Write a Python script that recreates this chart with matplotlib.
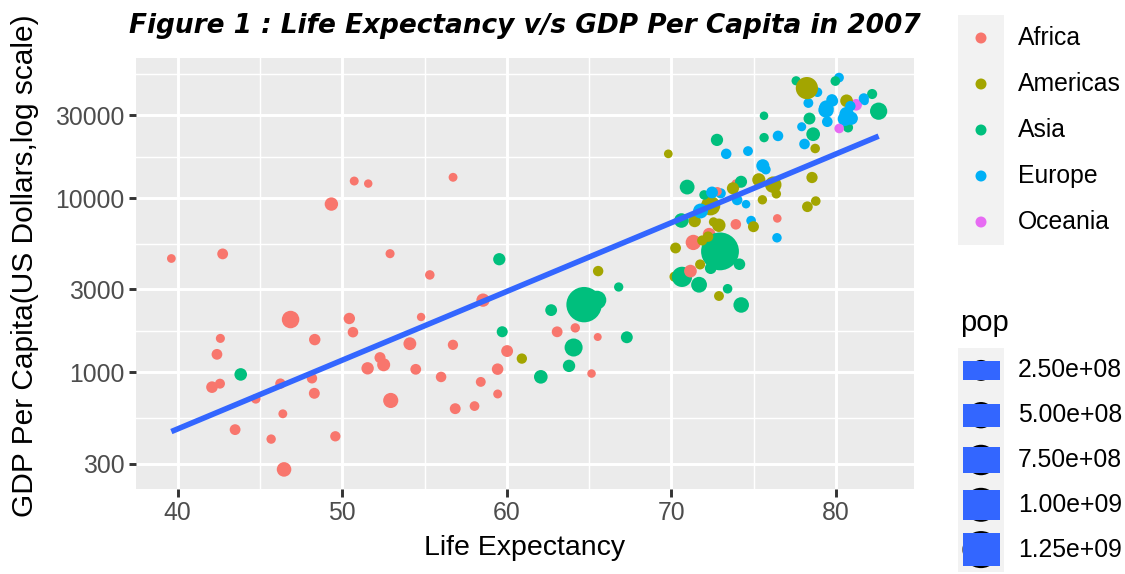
import numpy as np
import matplotlib
matplotlib.use("Agg")
from matplotlib import pyplot as plt
from matplotlib.patches import Rectangle, Circle

plt.rcParams['font.family'] = ['Liberation Sans', 'DejaVu Sans']

# gapminder, year 2007
afr_country = ["Algeria", "Angola", "Benin", "Botswana", "Burkina Faso", "Burundi", "Cameroon",
               "Central African Republic", "Chad", "Comoros", "Congo, Dem. Rep.", "Congo, Rep.",
               "Cote d'Ivoire", "Djibouti", "Egypt", "Equatorial Guinea", "Eritrea", "Ethiopia",
               "Gabon", "Gambia", "Ghana", "Guinea", "Guinea-Bissau", "Kenya", "Lesotho", "Liberia",
               "Libya", "Madagascar", "Malawi", "Mali", "Mauritania", "Mauritius", "Morocco",
               "Mozambique", "Namibia", "Niger", "Nigeria", "Reunion", "Rwanda",
               "Sao Tome and Principe", "Senegal", "Sierra Leone", "Somalia", "South Africa",
               "Sudan", "Swaziland", "Tanzania", "Togo", "Tunisia", "Uganda", "Zambia", "Zimbabwe"]
afr_life = [72.301, 42.731, 56.728, 50.728, 52.295, 49.580, 50.430, 44.741, 50.651, 65.152,
            46.462, 55.322, 48.328, 54.791, 71.338, 51.579, 58.040, 52.947, 56.735, 59.448,
            60.022, 56.007, 46.388, 54.110, 42.592, 45.678, 73.952, 59.443, 48.303, 54.467,
            64.164, 72.801, 71.164, 42.082, 52.906, 56.867, 46.859, 76.442, 46.242, 65.528,
            63.062, 42.568, 48.159, 49.339, 58.556, 39.613, 52.517, 58.420, 73.923, 51.542,
            42.384, 43.487]
afr_pop = [33333216, 12420476, 8078314, 1639131, 14326203, 8390505, 17696293, 4369038, 10238807,
           710960, 64606759, 3800610, 18013409, 496374, 80264543, 551201, 4906585, 76511887,
           1454867, 1688359, 22873338, 9947814, 1472041, 35610177, 2012649, 3193942, 6036914,
           19167654, 13327079, 12031795, 3270065, 1250882, 33757175, 19951656, 2055080,
           12894865, 135031164, 798094, 8860588, 199579, 12267493, 6144562, 9118773, 43997828,
           42292929, 1133066, 38139640, 5701579, 10276158, 29170398, 11746035, 12311143]
afr_gdp = [6223.4, 4797.2, 1441.3, 12569.9, 1217.0, 430.1, 2042.1, 706.0, 1704.1, 986.1,
           277.6, 3632.6, 1544.8, 2082.5, 5581.2, 12154.1, 641.4, 690.8, 13206.5, 752.7,
           1327.6, 942.7, 579.2, 1463.2, 1569.3, 414.5, 12057.5, 1044.8, 759.3, 1042.6,
           1803.2, 10957.0, 3820.2, 823.7, 4811.1, 619.7, 2014.0, 7670.1, 863.1, 1598.4,
           1712.5, 862.5, 926.1, 9269.7, 2602.4, 4513.5, 1107.5, 883.0, 7092.9, 1056.4,
           1271.2, 469.7]

ame_country = ["Argentina", "Bolivia", "Brazil", "Canada", "Chile", "Colombia", "Costa Rica",
               "Cuba", "Dominican Republic", "Ecuador", "El Salvador", "Guatemala", "Haiti",
               "Honduras", "Jamaica", "Mexico", "Nicaragua", "Panama", "Paraguay", "Peru",
               "Puerto Rico", "Trinidad and Tobago", "United States", "Uruguay", "Venezuela"]
ame_life = [75.320, 65.554, 72.390, 80.653, 78.553, 72.889, 78.782, 78.273, 72.235, 74.994,
            71.878, 70.259, 60.916, 70.198, 72.567, 76.195, 72.899, 75.537, 71.752, 71.421,
            78.746, 69.819, 78.242, 76.384, 73.747]
ame_pop = [40301927, 9119152, 190010647, 33390141, 16284741, 44227550, 4133884, 11416987,
           9319622, 13755680, 6939688, 12572928, 8502814, 7483763, 2780132, 108700891, 5675356,
           3242173, 6667147, 28674757, 3942491, 1056608, 301139947, 3447496, 26084662]
ame_gdp = [12779.4, 3822.1, 9065.8, 36319.2, 13171.6, 7006.6, 9645.1, 8948.1, 6025.4, 6873.3,
           5728.4, 5186.1, 1201.6, 3548.3, 7320.9, 11977.6, 2749.3, 9809.2, 4172.8, 7408.9,
           19328.7, 18008.5, 42951.7, 10611.5, 11415.8]

asi_country = ["Afghanistan", "Bahrain", "Bangladesh", "Cambodia", "China", "Hong Kong, China",
               "India", "Indonesia", "Iran", "Iraq", "Israel", "Japan", "Jordan",
               "Korea, Dem. Rep.", "Korea, Rep.", "Kuwait", "Lebanon", "Malaysia", "Mongolia",
               "Myanmar", "Nepal", "Oman", "Pakistan", "Philippines", "Saudi Arabia", "Singapore",
               "Sri Lanka", "Syria", "Taiwan", "Thailand", "Vietnam", "West Bank and Gaza",
               "Yemen, Rep."]
asi_life = [43.828, 75.635, 64.062, 59.723, 72.961, 82.208, 64.698, 70.650, 70.964, 59.545,
            80.745, 82.603, 72.535, 67.297, 78.623, 77.588, 71.993, 74.241, 66.803, 62.069,
            63.785, 75.640, 65.483, 71.688, 72.777, 79.972, 72.396, 74.143, 78.400, 70.616,
            74.249, 73.422, 62.698]
asi_pop = [31889923, 708573, 150448339, 14131858, 1318683096, 6980412, 1110396331, 223547000,
           69453570, 27499638, 6426679, 127467972, 6053193, 23301725, 49044790, 2505559,
           3921278, 24821286, 2874127, 47761980, 28901790, 3204897, 169270617, 91077287,
           27601038, 4553009, 20378239, 19314747, 23174294, 65068149, 85262356, 4018332,
           22211743]
asi_gdp = [974.6, 29796.0, 1391.3, 1713.8, 4959.1, 39725.0, 2452.2, 3540.7, 11605.7, 4471.1,
           25523.3, 31656.1, 4519.5, 1593.1, 23348.1, 47307.0, 10461.1, 12451.7, 3095.8, 944.0,
           1091.4, 22316.2, 2605.9, 3190.5, 21654.8, 47143.2, 3970.1, 4184.5, 28718.3, 7458.4,
           2441.6, 3025.3, 2280.8]

eur_country = ["Albania", "Austria", "Belgium", "Bosnia and Herzegovina", "Bulgaria", "Croatia",
               "Czech Republic", "Denmark", "Finland", "France", "Germany", "Greece", "Hungary",
               "Iceland", "Ireland", "Italy", "Montenegro", "Netherlands", "Norway", "Poland",
               "Portugal", "Romania", "Serbia", "Slovak Republic", "Slovenia", "Spain", "Sweden",
               "Switzerland", "Turkey", "United Kingdom"]
eur_life = [76.423, 79.829, 79.441, 74.852, 73.005, 75.748, 76.486, 78.332, 79.313, 80.657,
            79.406, 79.483, 73.338, 81.757, 78.885, 80.546, 74.543, 79.762, 80.196, 75.563,
            78.098, 72.476, 74.002, 74.663, 77.926, 80.941, 80.884, 81.701, 71.777, 79.425]
eur_pop = [3600523, 8199783, 10392226, 4552198, 7322858, 4493312, 10228744, 5468120, 5238460,
           61083916, 82400996, 10706290, 9956108, 301931, 4109086, 58147733, 684736, 16570613,
           4627926, 38518241, 10642836, 22276056, 10150265, 5447502, 2009245, 40448191,
           9031088, 7554661, 71158647, 60776238]
eur_gdp = [5937.0, 36126.5, 33692.6, 7446.3, 10680.8, 14619.2, 22833.3, 35278.4, 33207.1,
           30470.0, 32170.4, 27538.4, 18008.9, 36180.8, 40676.0, 28569.7, 9253.9, 36797.9,
           49357.2, 15389.9, 20509.6, 10808.5, 9786.5, 18678.3, 25768.3, 28821.1, 33859.8,
           37506.4, 8458.3, 33203.3]

oce_country = ["Australia", "New Zealand"]
oce_life = [81.235, 80.204]
oce_pop = [20434176, 4115771]
oce_gdp = [34435.4, 25185.0]

continents = ["Africa", "Americas", "Asia", "Europe", "Oceania"]
colors = ["#F8766D", "#A3A500", "#00BF7D", "#00B0F6", "#E76BF3"]
pop_breaks = [2.5e8, 5.0e8, 7.5e8, 1.0e9, 1.25e9]
pop_labels = ["2.50e+08", "5.00e+08", "7.50e+08", "1.00e+09", "1.25e+09"]
y_breaks = [300, 1000, 3000, 10000, 30000]
x_breaks = [40, 50, 60, 70, 80]

# stack everything, then draw in country order like ggplot does
groups = [(afr_country, afr_life, afr_pop, afr_gdp), (ame_country, ame_life, ame_pop, ame_gdp),
          (asi_country, asi_life, asi_pop, asi_gdp), (eur_country, eur_life, eur_pop, eur_gdp),
          (oce_country, oce_life, oce_pop, oce_gdp)]
country, life, pop, gdp, col = [], [], [], [], []
for i, g in enumerate(groups):
    country += g[0]; life += g[1]; pop += g[2]; gdp += g[3]
    col += [colors[i]] * len(g[0])
order = np.argsort(country)
life = np.array(life)[order]
pop = np.array(pop, dtype=float)[order]
gdp = np.array(gdp)[order]
col = np.array(col)[order]

W, H, DPI = 1125, 574, 100
PX = DPI / 72.0  # pixels per point


def size_px(p):
    # ggplot scale_size: area palette, range 1..6, then pch 19 diameter
    t = (np.asarray(p) - pop.min()) / (pop.max() - pop.min())
    size = 1 + 5 * np.sqrt(np.clip(t, 0, None))
    return 2.1 * (size * 2.845 + 0.945)


fig = plt.figure(figsize=(W / DPI, H / DPI), dpi=DPI)
L, R, T, B = 136, 914, 58, 489
ax = fig.add_axes([L / W, 1 - B / H, (R - L) / W, (B - T) / H])
ax.set_facecolor("#EBEBEB")
for s in ax.spines.values():
    s.set_visible(False)

ax.set_yscale("log")
xr = life.max() - life.min()
ax.set_xlim(life.min() - 0.05 * xr, life.max() + 0.05 * xr)
ly = np.log10(gdp)
yr = ly.max() - ly.min()
ax.set_ylim(10 ** (ly.min() - 0.05 * yr), 10 ** (ly.max() + 0.05 * yr))

# grid: white major + minor
for v in x_breaks:
    ax.axvline(v, color="white", lw=2.1, zorder=0.5)
for v in [45, 55, 65, 75]:
    ax.axvline(v, color="white", lw=1.05, zorder=0.4)
lb = np.log10(y_breaks)
ext = np.concatenate([[2 * lb[0] - lb[1]], lb, [2 * lb[-1] - lb[-2]]])
for v in (ext[:-1] + ext[1:]) / 2:
    ax.axhline(10 ** v, color="white", lw=1.05, zorder=0.4)
for v in y_breaks:
    ax.axhline(v, color="white", lw=2.1, zorder=0.5)

ax.scatter(life, gdp, s=(size_px(pop) / PX) ** 2, c=col, linewidths=0, zorder=2)

# lm fit on log scale
b1, b0 = np.polyfit(life, ly, 1)
xs = np.array([life.min(), life.max()])
ax.plot(xs, 10 ** (b0 + b1 * xs), color="#3366FF", lw=4.0, solid_capstyle="butt", zorder=3)

ax.set_xticks(x_breaks)
ax.set_yticks(y_breaks)
ax.set_yticklabels([str(v) for v in y_breaks])
ax.yaxis.set_minor_locator(matplotlib.ticker.NullLocator())
ax.tick_params(length=5.4, width=2.1, color="#333333", labelcolor="#4D4D4D",
               labelsize=17.8, pad=3)

fig.text((L + R) / 2 / W, 1 - 548 / H, "Life Expectancy", ha="center", va="center",
         fontsize=20.5)
fig.text(25 / W, 1 - 266 / H, "GDP Per Capita(US Dollars,log scale)", ha="center",
         va="center", rotation=90, fontsize=21.5)
fig.text((L + R) / 2 / W, 1 - 26 / H, "Figure 1 : Life Expectancy v/s GDP Per Capita in 2007",
         ha="center", va="center", fontsize=19, fontweight="bold", fontstyle="italic",
         family="DejaVu Sans")

# legends, drawn in pixel space
lg = fig.add_axes([0, 0, 1, 1], zorder=-1)
lg.set_xlim(0, W)
lg.set_ylim(H, 0)
lg.axis("off")

lg.add_patch(Rectangle((958, 15), 46, 230, color="#F2F2F2", lw=0))
for i, name in enumerate(continents):
    cy = 15 + 46 * i + 23
    lg.add_patch(Circle((981, cy), 5.5, color=colors[i], lw=0))
    lg.text(1018, cy, name, va="center", ha="left", fontsize=17.8)

lg.text(960, 323, "pop", va="center", ha="left", fontsize=21)
lg.add_patch(Rectangle((958, 348), 46, 224, color="#F2F2F2", lw=0))
for i, (p, lab) in enumerate(zip(pop_breaks, pop_labels)):
    cy = 348 + 44.8 * i + 22.4
    d = float(size_px(p))
    lg.add_patch(Circle((981, cy), d / 2, color="black", lw=0))
    h = 0.87 * d
    lg.add_patch(Rectangle((962.5, cy - h / 2), 37, h, color="#3366FF", lw=0))
    lg.text(1018, cy, lab, va="center", ha="left", fontsize=17.8)

fig.savefig("out.png", dpi=DPI)
